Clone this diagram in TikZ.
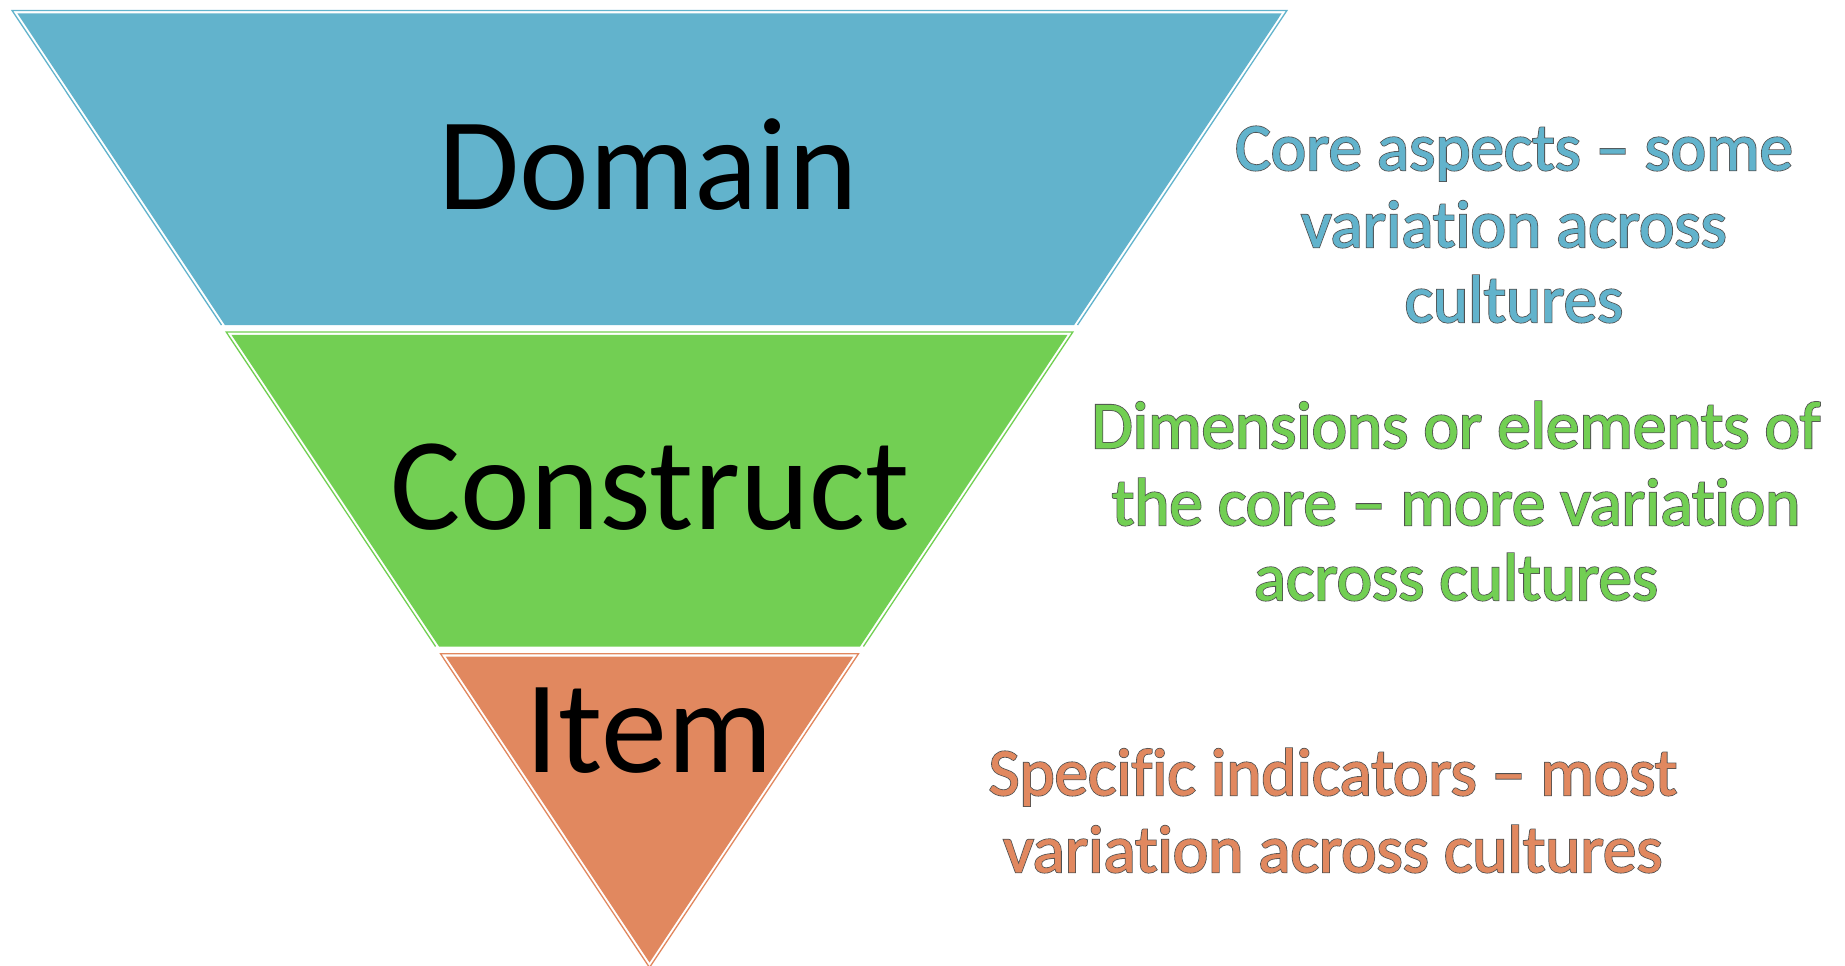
\documentclass[tikz,border=0pt]{standalone}
\usepackage{fontspec}
\setmainfont{Carlito}[RawFeature={-liga}]
\newfontfamily\notefont{Carlito}[RawFeature={-liga},FakeBold=0.8]
\newfontfamily\outfont{Carlito}[RawFeature={-liga},FakeBold=3.2]
\definecolor{cblue}{HTML}{62B3CC}
\definecolor{cgreen}{HTML}{72CF53}
\definecolor{corange}{HTML}{E1885F}
\definecolor{outl}{HTML}{505050}
\tikzset{
  layerfill/.style={fill=#1, draw=none},
  layerline/.style={draw=#1, line width=1.3pt, line join=miter},
  big/.style={anchor=base, inner sep=0pt, font=\fontsize{132}{132}\selectfont, text=black},
  note/.style={anchor=base, inner sep=0pt, font=\notefont\fontsize{67}{76}\selectfont, text=#1},
  noteout/.style={anchor=base, inner sep=0pt, font=\outfont\fontsize{67}{76}\selectfont, text=outl},
}
\newcommand{\noteline}[4]{%
  \node[noteout] (#1o) at (#2) {#4};
  \node[note=#3] (#1) at (#2) {#4};}
\begin{document}
\begin{tikzpicture}[x=1pt,y=-1pt]
\useasboundingbox (0,0) rectangle (1845,966);
% blue layer
\path[layerfill=cblue] (17.3,13.3) -- (1281.7,13.3) -- (1074.1,325) -- (224.9,325) -- cycle;
\draw[layerline=cblue] (221.5,325) -- (12.1,10.5) -- (1286.9,10.5) -- (1077.5,325);
% green layer
\path[layerfill=cgreen] (231.4,334.8) -- (1067.6,334.8) -- (860,646.5) -- (439,646.5) -- cycle;
\draw[layerline=cgreen] (435.6,646.5) -- (226.2,332) -- (1072.8,332) -- (863.4,646.5);
% orange layer
\path[layerfill=corange] (445.7,656.5) -- (853.3,656.5) -- (649.5,962.5) -- cycle;
\draw[layerline=corange] (440.5,653.7) -- (858.5,653.7) -- (649.5,967.5) -- cycle;
% labels
\node[big] (domain) at (648,209) {Domain};
\node[big] (construct) at (650,529) {Construct};
\node[big] (item) at (649,772) {Item};
% notes
\noteline{b1}{1514,170}{cblue}{Core aspects – some}
\noteline{b2}{1514,247}{cblue}{variation across}
\noteline{b3}{1514,322}{cblue}{cultures}
\noteline{g1}{1456,448}{cgreen}{Dimensions or elements of}
\noteline{g2}{1456,525}{cgreen}{the core – more variation}
\noteline{g3}{1456,600}{cgreen}{across cultures}
\noteline{o1}{1333,795}{corange}{Specific indicators – most}
\noteline{o2}{1333,872}{corange}{variation across cultures}
\end{tikzpicture}
\end{document}
